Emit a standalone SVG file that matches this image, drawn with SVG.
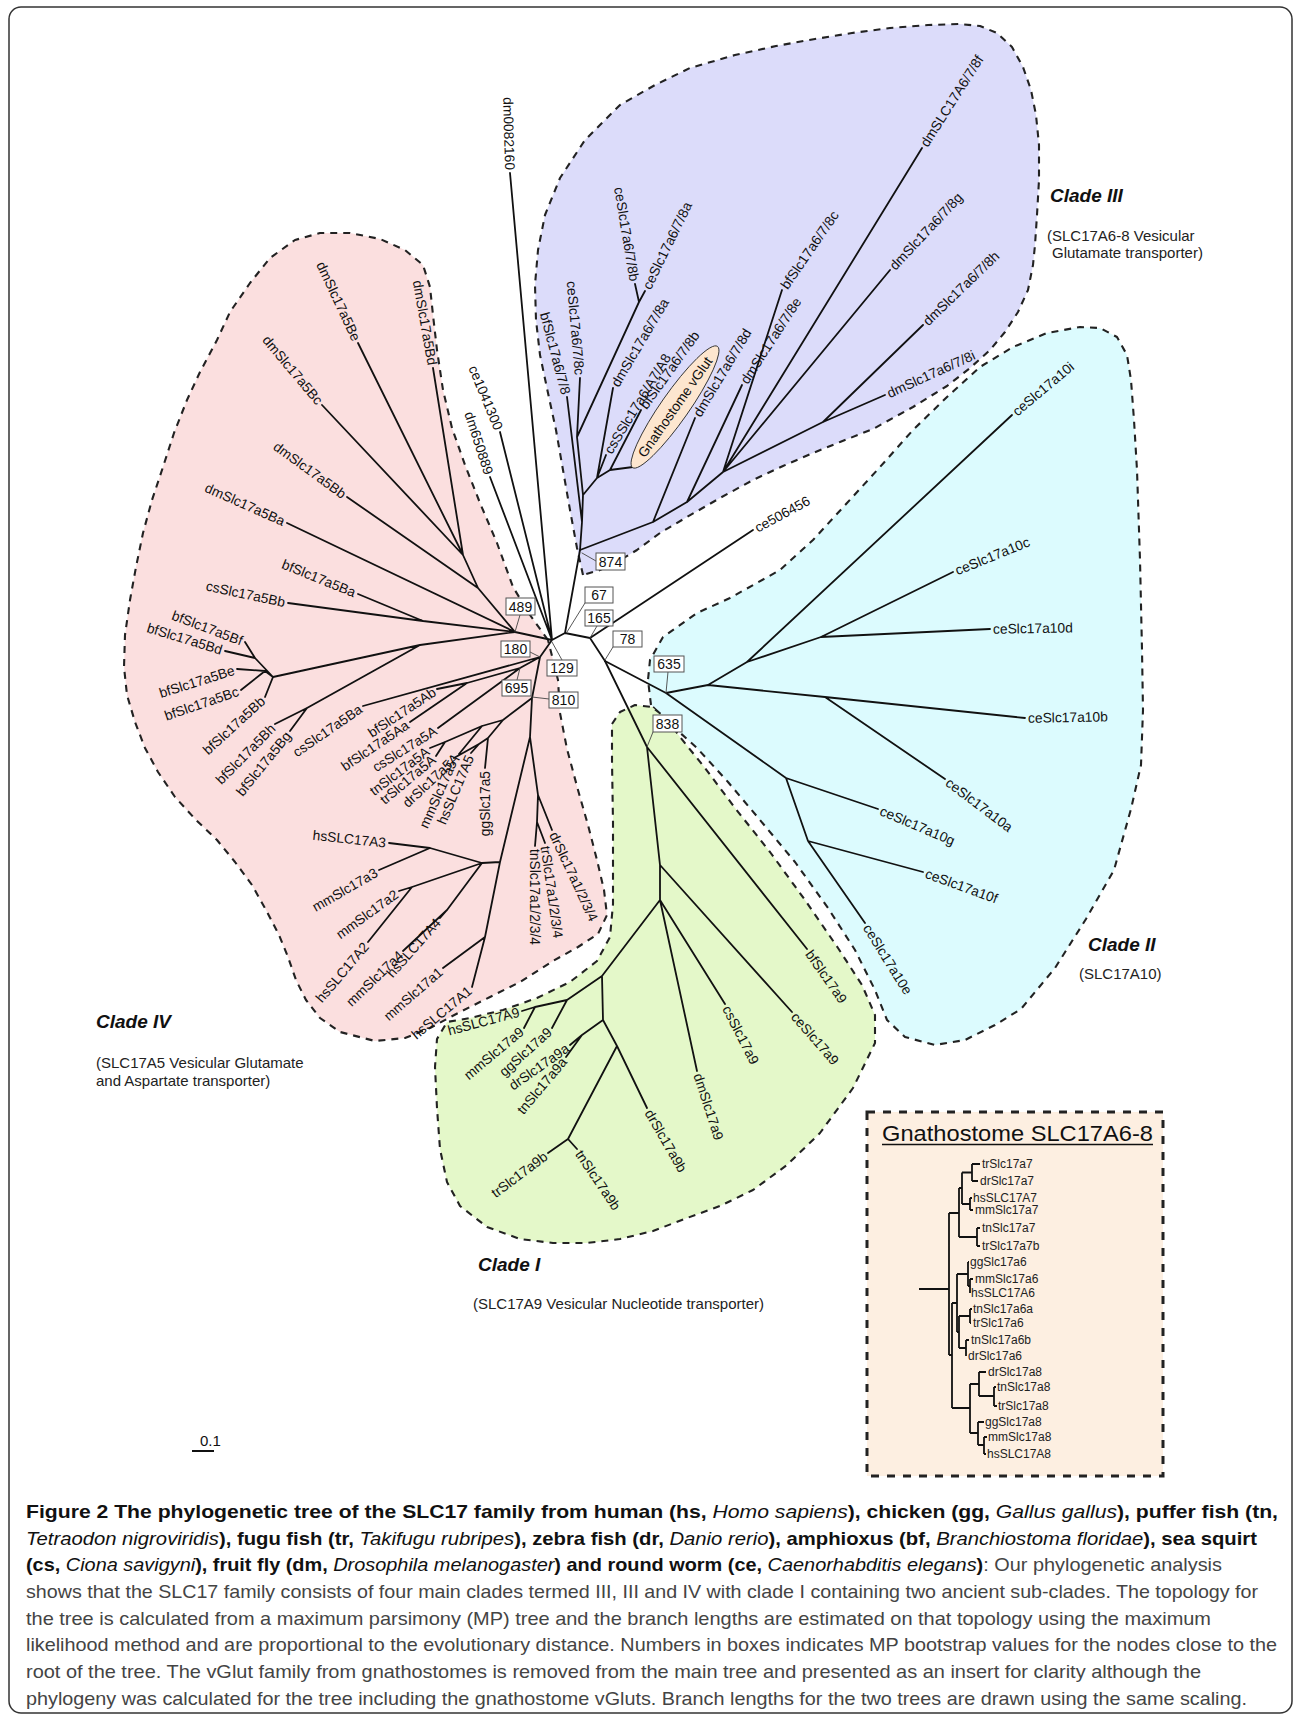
<svg xmlns="http://www.w3.org/2000/svg" width="1295" height="1715" viewBox="0 0 1295 1715">
<style>
.cl{stroke:#222;stroke-width:2.1;stroke-dasharray:7 6;stroke-linejoin:round}
.c3{fill:#dcdcfa}.c4{fill:#fbdfdf}.c2{fill:#dcfbfe}.c1{fill:#e4f8c9}
.br{stroke:#111;stroke-width:1.8;fill:none;stroke-linecap:round}
.lb{font-family:"Liberation Sans",Arial,sans-serif;font-size:13.8px;fill:#111}
.e{text-anchor:end}
.bx rect{fill:#fff;stroke:#555;stroke-width:1}
.bx text{font-family:"Liberation Sans",Arial,sans-serif;font-size:14px;fill:#111;text-anchor:middle}
.ptr{stroke:#444;stroke-width:0.9;fill:none}
.ct{font-family:"Liberation Sans",Arial,sans-serif;font-size:19px;font-weight:bold;font-style:italic;fill:#111}
.cs{font-family:"Liberation Sans",Arial,sans-serif;font-size:15px;fill:#222}
.il{font-family:"Liberation Sans",Arial,sans-serif;font-size:12px;fill:#222}
.cap{font-family:"Liberation Sans",Arial,sans-serif;font-size:18.5px;fill:#444}
.b{font-weight:bold;fill:#111}
.i{font-style:italic;fill:#111}
</style>
<rect x="9" y="7" width="1283" height="1706" rx="12" fill="#fff" stroke="#333" stroke-width="1.5"/>

<g id="clade-regions">
<path id="clade3-region" class="c3 cl" d="M583,575 L577,548 L570,510 L563,470 L556,430 L548,393 L540,355 L536,320 L535,285 L538,250 L545,215 L560,178 L585,140 L620,105 L655,85 L690,68 L735,55 L776,46 L815,39 L852,33 L890,28 L928,25 L960,24 L980,26 L997,33 L1012,47 L1023,67 L1031,90 L1036,115 L1039,145 L1039,180 L1037,215 L1035,245 L1033,265 L1028,290 L1018,312 L1005,332 L990,350 L970,368 L947,386 L913,407 L873,429 L840,442 L813,453 L783,466 L753,480 L720,498 L687,517 L660,533 L637,550 L617,562 L600,570 Z"/>
<path id="clade4-region" class="c4 cl" d="M548,640 L530,615 L513,587 L497,543 L480,503 L465,465 L452,428 L443,390 L437,350 L433,315 L430,287 L423,265 L405,250 L380,239 L350,233 L320,233 L295,240 L270,258 L250,283 L230,312 L217,340 L200,372 L187,400 L174,433 L163,467 L152,500 L143,533 L136,567 L130,600 L125,635 L124,667 L127,695 L135,722 L145,748 L158,772 L175,797 L196,820 L217,840 L235,862 L252,885 L266,910 L279,935 L288,957 L296,980 L306,1000 L320,1018 L340,1032 L375,1041 L405,1038 L430,1028 L460,1012 L490,997 L520,982 L553,961 L578,947 L598,934 L607,915 L604,890 L597,860 L588,825 L578,790 L567,749 L560,713 L558,680 Z"/>
<path id="clade2-region" class="c2 cl" d="M651,705 L648,680 L650,660 L663,637 L697,613 L730,598 L780,570 L813,540 L847,503 L880,467 L913,430 L947,397 L980,367 L1013,347 L1047,333 L1080,327 L1100,328 L1117,337 L1127,355 L1131,380 L1134,420 L1137,470 L1140,560 L1142,650 L1143,710 L1141,765 L1131,809 L1114,870 L1086,919 L1055,968 L1021,1009 L995,1025 L965,1040 L935,1045 L905,1037 L887,1020 L875,990 L855,950 L828,908 L795,862 L760,820 L728,782 L697,748 L668,722 Z"/>
<path id="clade1-region" class="c1 cl" d="M612,724 L620,712 L635,705 L652,707 L666,718 L680,737 L705,768 L735,808 L770,852 L805,900 L838,948 L862,985 L875,1015 L875,1043 L853,1088 L820,1133 L787,1165 L753,1190 L720,1206 L687,1218 L653,1231 L620,1239 L587,1243 L553,1243 L520,1239 L487,1227 L460,1206 L447,1182 L440,1149 L437,1108 L435,1067 L437,1039 L447,1022 L470,1018 L503,1010 L537,998 L570,982 L597,961 L610,937 L613,904 L613,822 L612,761 Z"/>
</g>

<g id="connectors" class="br">
<path d="M565,633L552,640 M565,633L580,550 M565,633L590,638 M590,638L605,661 M590,638L753,530 M552,640L510,173 M552,640L500,432 M552,640L490,477 M552,640L515,632 M552,640L540,657"/>
<path d="M580,550L582,522 M582,522L567,397 M582,522L583,495 M583,495L577,437 M577,437L580,378 M577,437L639,302 M639,302L635,284 M639,302L645,291 M583,495L597,478 M597,478L613,388 M597,478L606,455 M597,478L610,470 M610,470L633,467 M610,470L641,410 M580,550L653,522 M653,522L695,418 M653,522L687,502 M687,502L742,385 M687,502L723,472 M723,472L782,290 M723,472L922,148 M723,472L890,270 M723,472L823,422 M823,422L923,325 M823,422L885,395"/>
<path d="M605,661L666,693 M666,693L708,685 M666,693L786,778 M708,685L747,662 M708,685L825,697 M825,697L1025,718 M825,697L945,779 M747,662L1012,415 M747,662L821,637 M821,637L953,572 M821,637L990,629 M786,778L878,809 M786,778L808,841 M808,841L923,872 M808,841L865,923"/>
<path d="M605,661L647,747 M647,747L807,949 M647,747L660,865 M660,865L792,1012 M660,865L660,900 M660,900L725,1004 M660,900L697,1071 M660,900L602,976 M602,976L567,1000 M602,976L603,1020 M567,1000L535,1007 M567,1000L552,1028 M535,1007L522,1011 M535,1007L524,1028 M603,1020L582,1035 M582,1035L570,1045 M582,1035L566,1057 M603,1020L617,1046 M617,1046L647,1108 M617,1046L568,1139 M568,1139L548,1153 M568,1139L577,1149"/>
<path d="M515,632L478,588 M515,632L287,523 M478,588L463,555 M478,588L347,497 M463,555L433,368 M463,555L358,343 M463,555L322,405 M515,632L423,621 M423,621L358,594 M423,621L288,603 M515,632L420,645 M420,645L273,677 M420,645L307,708 M273,677L255,658 M273,677L265,671 M273,677L265,697 M255,658L245,642 M255,658L225,651 M265,671L237,669 M265,671L241,690 M307,708L275,724 M307,708L290,731 M540,657L363,706 M540,657L520,668 M520,668L467,683 M520,668L438,728 M467,683L437,689 M467,683L410,722 M540,657L532,698 M532,698L503,720 M503,720L482,726 M482,726L445,742 M445,742L430,748 M445,742L436,756 M482,726L459,754 M503,720L488,738 M488,738L485,768 M488,738L479,744 M479,744L454,758 M479,744L471,753 M532,698L530,737 M530,737L538,795 M538,795L552,830 M538,795L537,822 M537,822L535,846 M537,822L545,843 M530,737L500,862 M500,862L482,863 M482,863L430,848 M430,848L389,843 M430,848L379,870 M482,863L412,887 M412,887L399,891 M412,887L368,942 M482,863L447,910 M447,910L440,918 M447,910L403,951 M500,862L485,937 M485,937L443,968 M485,937L472,987"/>
<path class="ptr" d="M596,561L582,553 M585,603L567,632 M597,626L590,638 M613,647L605,660 M520,615L515,632 M530,652L540,657 M562,660L552,642 M517,680L520,668 M549,699L532,697 M668,672L666,693 M653,732L647,747"/>
</g>

<g id="n-gnathostome-vglut">
<ellipse cx="675" cy="407" rx="74" ry="14" transform="rotate(-55 675 407)" fill="#fde6cf" stroke="#333" stroke-width="0.9"/>
<text class="lb" font-size="14" text-anchor="middle" transform="translate(675,407) rotate(-55)" dy=".35em">Gnathostome vGlut</text>
</g>

<g id="bootstrap">
<g id="bs874" class="bx"><rect x="596" y="553" width="29" height="17"/><text x="610.5" y="566.5">874</text></g>
<g id="bs67" class="bx"><rect x="585" y="587" width="28" height="16"/><text x="599" y="600">67</text></g>
<g id="bs165" class="bx"><rect x="585" y="610" width="28" height="16"/><text x="599" y="623">165</text></g>
<g id="bs78" class="bx"><rect x="613" y="631" width="29" height="16"/><text x="627.5" y="644">78</text></g>
<g id="bs489" class="bx"><rect x="506" y="598" width="29" height="17"/><text x="520.5" y="611.5">489</text></g>
<g id="bs180" class="bx"><rect x="501" y="641" width="29" height="16"/><text x="515.5" y="654">180</text></g>
<g id="bs129" class="bx"><rect x="547" y="660" width="30" height="16"/><text x="562" y="673">129</text></g>
<g id="bs695" class="bx"><rect x="502" y="680" width="29" height="16"/><text x="516.5" y="693">695</text></g>
<g id="bs810" class="bx"><rect x="549" y="692" width="29" height="16"/><text x="563.5" y="705">810</text></g>
<g id="bs635" class="bx"><rect x="654" y="656" width="30" height="16"/><text x="669" y="669">635</text></g>
<g id="bs838" class="bx"><rect x="653" y="715" width="29" height="17"/><text x="667.5" y="728.5">838</text></g>
</g>

<g id="leaves">
<g id="l-dm0082160"><text class="lb e" transform="translate(510,173) rotate(88.5)" x="-3" dy=".35em">dm0082160</text></g>
<g id="l-ce1041300"><text class="lb e" transform="translate(500,432) rotate(67.5)" x="-3" dy=".35em">ce1041300</text></g>
<g id="l-dm650889"><text class="lb e" transform="translate(490,477) rotate(72)" x="-3" dy=".35em">dm650889</text></g>
<g id="l-bf678"><text class="lb e" transform="translate(567,397) rotate(75)" x="-3" dy=".35em">bfSlc17a6/7/8</text></g>
<g id="l-ce678c"><text class="lb e" transform="translate(580,378) rotate(85)" x="-3" dy=".35em">ceSlc17a6/7/8c</text></g>
<g id="l-ce678b"><text class="lb e" transform="translate(635,284) rotate(80.5)" x="-3" dy=".35em">ceSlc17a6/7/8b</text></g>
<g id="l-ce678a"><text class="lb" transform="translate(645,291) rotate(-64)" x="3" dy=".35em">ceSlc17a6/7/8a</text></g>
<g id="l-dm678a"><text class="lb" transform="translate(613,388) rotate(-59.4)" x="3" dy=".35em">dmSlc17a6/7/8a</text></g>
<g id="l-csS"><text class="lb" transform="translate(606,455) rotate(-58.5)" x="3" dy=".35em">csSSlc17a6/A7/A8</text></g>
<g id="l-bf678b"><text class="lb" transform="translate(641,410) rotate(-54.5)" x="3" dy=".35em">bfSlc17a6/7/8b</text></g>
<g id="l-dm678d"><text class="lb" transform="translate(695,418) rotate(-59)" x="3" dy=".35em">dmSlc17a6/7/8d</text></g>
<g id="l-dm678e"><text class="lb" transform="translate(742,385) rotate(-57)" x="3" dy=".35em">dmSlc17a6/7/8e</text></g>
<g id="l-bf678c"><text class="lb" transform="translate(782,290) rotate(-55.5)" x="3" dy=".35em">bfSlc17a6/7/8c</text></g>
<g id="l-dm678f"><text class="lb" transform="translate(922,148) rotate(-57.6)" x="3" dy=".35em">dmSLC17A6/7/8f</text></g>
<g id="l-dm678g"><text class="lb" transform="translate(890,270) rotate(-47)" x="3" dy=".35em">dmSlc17a6/7/8g</text></g>
<g id="l-dm678h"><text class="lb" transform="translate(923,325) rotate(-44)" x="3" dy=".35em">dmSlc17a6/7/8h</text></g>
<g id="l-dm678i"><text class="lb" transform="translate(885,395) rotate(-24.5)" x="3" dy=".35em">dmSlc17a6/7/8i</text></g>
<g id="l-ce506456"><text class="lb" transform="translate(753,530) rotate(-28.6)" x="3" dy=".35em">ce506456</text></g>

<g id="l-ce10i"><text class="lb" transform="translate(1012,415) rotate(-40)" x="3" dy=".35em">ceSlc17a10i</text></g>
<g id="l-ce10c"><text class="lb" transform="translate(953,572) rotate(-22)" x="3" dy=".35em">ceSlc17a10c</text></g>
<g id="l-ce10d"><text class="lb" transform="translate(990,629) rotate(-1)" x="3" dy=".35em">ceSlc17a10d</text></g>
<g id="l-ce10b"><text class="lb" transform="translate(1025,718) rotate(-1)" x="3" dy=".35em">ceSlc17a10b</text></g>
<g id="l-ce10a"><text class="lb" transform="translate(945,779) rotate(37)" x="3" dy=".35em">ceSlc17a10a</text></g>
<g id="l-ce10g"><text class="lb" transform="translate(878,809) rotate(23)" x="3" dy=".35em">ceSlc17a10g</text></g>
<g id="l-ce10f"><text class="lb" transform="translate(923,872) rotate(20)" x="3" dy=".35em">ceSlc17a10f</text></g>
<g id="l-ce10e"><text class="lb" transform="translate(865,923) rotate(58)" x="3" dy=".35em">ceSlc17a10e</text></g>

<g id="l-bf9"><text class="lb" transform="translate(807,949) rotate(55)" x="3" dy=".35em">bfSlc17a9</text></g>
<g id="l-ce9"><text class="lb" transform="translate(792,1012) rotate(49)" x="3" dy=".35em">ceSlc17a9</text></g>
<g id="l-cs9"><text class="lb" transform="translate(725,1004) rotate(63)" x="3" dy=".35em">csSlc17a9</text></g>
<g id="l-dm9"><text class="lb" transform="translate(697,1071) rotate(72)" x="3" dy=".35em">dmSlc17a9</text></g>
<g id="l-dr9b"><text class="lb" transform="translate(647,1108) rotate(60)" x="3" dy=".35em">drSlc17a9b</text></g>
<g id="l-tn9b"><text class="lb" transform="translate(577,1149) rotate(56)" x="3" dy=".35em">tnSlc17a9b</text></g>
<g id="l-tr9b"><text class="lb e" transform="translate(548,1153) rotate(-37)" x="-3" dy=".35em">trSlc17a9b</text></g>
<g id="l-tn9a"><text class="lb e" transform="translate(566,1057) rotate(-50)" x="-3" dy=".35em">tnSlc17a9a</text></g>
<g id="l-dr9a"><text class="lb e" transform="translate(570,1045) rotate(-35)" x="-3" dy=".35em">drSlc17a9a</text></g>
<g id="l-gg9"><text class="lb e" transform="translate(552,1028) rotate(-42)" x="-3" dy=".35em">ggSlc17a9</text></g>
<g id="l-mm9"><text class="lb e" transform="translate(524,1028) rotate(-40)" x="-3" dy=".35em">mmSlc17a9</text></g>
<g id="l-hs9"><text class="lb e" transform="translate(522,1011) rotate(-15)" x="-3" dy=".35em">hsSLC17A9</text></g>

<g id="l-dm5Be"><text class="lb e" transform="translate(358,343) rotate(65)" x="-3" dy=".35em">dmSlc17a5Be</text></g>
<g id="l-dm5Bd"><text class="lb e" transform="translate(433,368) rotate(80)" x="-3" dy=".35em">dmSlc17a5Bd</text></g>
<g id="l-dm5Bc"><text class="lb e" transform="translate(322,405) rotate(50)" x="-3" dy=".35em">dmSlc17a5Bc</text></g>
<g id="l-dm5Bb"><text class="lb e" transform="translate(347,497) rotate(36)" x="-3" dy=".35em">dmSlc17a5Bb</text></g>
<g id="l-dm5Ba"><text class="lb e" transform="translate(287,523) rotate(24)" x="-3" dy=".35em">dmSlc17a5Ba</text></g>
<g id="l-bf5Ba"><text class="lb e" transform="translate(358,594) rotate(22)" x="-3" dy=".35em">bfSlc17a5Ba</text></g>
<g id="l-cs5Bb"><text class="lb e" transform="translate(288,603) rotate(12)" x="-3" dy=".35em">csSlc17a5Bb</text></g>
<g id="l-bf5Bf"><text class="lb e" transform="translate(245,642) rotate(20.6)" x="-3" dy=".35em">bfSlc17a5Bf</text></g>
<g id="l-bf5Bd"><text class="lb e" transform="translate(225,651) rotate(17)" x="-3" dy=".35em">bfSlc17a5Bd</text></g>
<g id="l-bf5Be"><text class="lb e" transform="translate(237,669) rotate(-17.5)" x="-3" dy=".35em">bfSlc17a5Be</text></g>
<g id="l-bf5Bc"><text class="lb e" transform="translate(241,690) rotate(-19)" x="-3" dy=".35em">bfSlc17a5Bc</text></g>
<g id="l-bf5Bb"><text class="lb e" transform="translate(265,697) rotate(-42.5)" x="-3" dy=".35em">bfSlc17a5Bb</text></g>
<g id="l-bf5Bh"><text class="lb e" transform="translate(275,724) rotate(-45.5)" x="-3" dy=".35em">bfSlc17a5Bh</text></g>
<g id="l-bf5Bg"><text class="lb e" transform="translate(290,731) rotate(-51)" x="-3" dy=".35em">bfSlc17a5Bg</text></g>
<g id="l-cs5Ba"><text class="lb e" transform="translate(363,706) rotate(-34.6)" x="-3" dy=".35em">csSlc17a5Ba</text></g>
<g id="l-bf5Ab"><text class="lb e" transform="translate(437,689) rotate(-33.5)" x="-3" dy=".35em">bfSlc17a5Ab</text></g>
<g id="l-bf5Aa"><text class="lb e" transform="translate(410,722) rotate(-34)" x="-3" dy=".35em">bfSlc17a5Aa</text></g>
<g id="l-cs5A"><text class="lb e" transform="translate(438,728) rotate(-32)" x="-3" dy=".35em">csSlc17a5A</text></g>
<g id="l-tn5A"><text class="lb e" transform="translate(430,748) rotate(-37)" x="-3" dy=".35em">tnSlc17a5A</text></g>
<g id="l-tr5A"><text class="lb e" transform="translate(436,756) rotate(-40)" x="-3" dy=".35em">trSlc17a5A</text></g>
<g id="l-dr5A"><text class="lb e" transform="translate(459,754) rotate(-43)" x="-3" dy=".35em">drSlc17a5A</text></g>
<g id="l-mm5"><text class="lb e" transform="translate(454,758) rotate(-66)" x="-3" dy=".35em">mmSlc17a5</text></g>
<g id="l-hs5"><text class="lb e" transform="translate(471,753) rotate(-67)" x="-3" dy=".35em">hsSLC17A5</text></g>
<g id="l-gg5"><text class="lb e" transform="translate(485,768) rotate(-90)" x="-3" dy=".35em">ggSlc17a5</text></g>
<g id="l-tn1234"><text class="lb" transform="translate(535,846) rotate(90)" x="3" dy=".35em">tnSlc17a1/2/3/4</text></g>
<g id="l-tr1234"><text class="lb" transform="translate(545,843) rotate(82)" x="3" dy=".35em">trSlc17a1/2/3/4</text></g>
<g id="l-dr1234"><text class="lb" transform="translate(552,830) rotate(65)" x="3" dy=".35em">drSlc17a1/2/3/4</text></g>
<g id="l-hs3"><text class="lb e" transform="translate(389,843) rotate(6)" x="-3" dy=".35em">hsSLC17A3</text></g>
<g id="l-mm3"><text class="lb e" transform="translate(379,870) rotate(-30)" x="-3" dy=".35em">mmSlc17a3</text></g>
<g id="l-mm2"><text class="lb e" transform="translate(399,891) rotate(-36)" x="-3" dy=".35em">mmSlc17a2</text></g>
<g id="l-hs2"><text class="lb e" transform="translate(368,942) rotate(-49.6)" x="-3" dy=".35em">hsSLC17A2</text></g>
<g id="l-mm4"><text class="lb e" transform="translate(403,951) rotate(-44)" x="-3" dy=".35em">mmSlc17a4</text></g>
<g id="l-hs4"><text class="lb e" transform="translate(440,918) rotate(-48.5)" x="-3" dy=".35em">hsSLC17A4</text></g>
<g id="l-mm1"><text class="lb e" transform="translate(443,968) rotate(-41)" x="-3" dy=".35em">mmSlc17a1</text></g>
<g id="l-hs1"><text class="lb e" transform="translate(472,987) rotate(-40)" x="-3" dy=".35em">hsSLC17A1</text></g>
</g>

<g id="clade-labels">
<g id="t-clade3"><text class="ct" x="1050" y="202">Clade III</text><text class="cs" x="1047" y="241">(SLC17A6-8 Vesicular</text><text class="cs" x="1052" y="258">Glutamate transporter)</text></g>
<g id="t-clade2"><text class="ct" x="1088" y="951">Clade II</text><text class="cs" x="1079" y="979">(SLC17A10)</text></g>
<g id="t-clade1"><text class="ct" x="478" y="1271">Clade I</text><text class="cs" x="473" y="1309">(SLC17A9 Vesicular Nucleotide transporter)</text></g>
<g id="t-clade4"><text class="ct" x="96" y="1028">Clade IV</text><text class="cs" x="96" y="1068">(SLC17A5 Vesicular Glutamate</text><text class="cs" x="96" y="1086">and Aspartate transporter)</text></g>
</g>

<g id="scale-bar">
<line x1="192" y1="1451" x2="214" y2="1451" stroke="#111" stroke-width="2"/>
<text x="200" y="1446" font-family="Liberation Sans, Arial, sans-serif" font-size="15" fill="#111">0.1</text>
</g>

<g id="inset">
<rect x="867" y="1112" width="296" height="364" fill="#fdefe1" stroke="#222" stroke-width="3" stroke-dasharray="8 8"/>
<text x="882" y="1141" font-family="Liberation Sans, Arial, sans-serif" font-size="22" fill="#111" textLength="271" lengthAdjust="spacingAndGlyphs">Gnathostome SLC17A6-8</text>
<line x1="882" y1="1144.5" x2="1153" y2="1144.5" stroke="#111" stroke-width="1.3"/>
<path fill="none" stroke="#111" stroke-width="1.8" d="M919,1289H949 M949,1213V1355 M949,1213H959 M959,1188V1237 M959,1188H962 M959,1237H977 M962,1172.5V1204 M962,1172.5H972 M962,1204H970 M972,1164V1181 M972,1164H980 M972,1181H978 M970,1198V1210 M970,1198H972 M970,1210H973 M977,1228V1246 M977,1228H980 M977,1246H980 M949,1355H952 M952,1303V1408 M952,1303H957 M957,1274V1332 M957,1274H968 M968,1262V1286 M968,1262H969 M968,1286H970 M970,1279V1293 M970,1279H973 M957,1332H959 M959,1316V1348 M959,1316H970 M959,1348H966 M970,1309V1323 M970,1309H972 M970,1323H971 M966,1340V1356 M966,1340H969 M952,1408H970 M970,1384V1433 M970,1384H979 M979,1372V1396 M979,1372H986 M979,1396H994 M994,1387V1406 M994,1387H996 M994,1406H997 M970,1433H978 M978,1422V1445 M978,1422H984 M978,1445H984 M984,1437V1454 M984,1437H987 M984,1454H986"/>
<g class="il">
<text id="i-trSlc17a7" x="982" y="1168">trSlc17a7</text>
<text id="i-drSlc17a7" x="980" y="1185">drSlc17a7</text>
<text id="i-hsSLC17A7" x="973" y="1202">hsSLC17A7</text>
<text id="i-mmSlc17a7" x="975" y="1214">mmSlc17a7</text>
<text id="i-tnSlc17a7" x="982" y="1232">tnSlc17a7</text>
<text id="i-trSlc17a7b" x="982" y="1250">trSlc17a7b</text>
<text id="i-ggSlc17a6" x="970" y="1266">ggSlc17a6</text>
<text id="i-mmSlc17a6" x="975" y="1283">mmSlc17a6</text>
<text id="i-hsSLC17A6" x="971" y="1297">hsSLC17A6</text>
<text id="i-tnSlc17a6a" x="973" y="1313">tnSlc17a6a</text>
<text id="i-trSlc17a6" x="973" y="1327">trSlc17a6</text>
<text id="i-tnSlc17a6b" x="971" y="1344">tnSlc17a6b</text>
<text id="i-drSlc17a6" x="968" y="1360">drSlc17a6</text>
<text id="i-drSlc17a8" x="988" y="1376">drSlc17a8</text>
<text id="i-tnSlc17a8" x="997" y="1391">tnSlc17a8</text>
<text id="i-trSlc17a8" x="998" y="1410">trSlc17a8</text>
<text id="i-ggSlc17a8" x="985" y="1426">ggSlc17a8</text>
<text id="i-mmSlc17a8" x="988" y="1441">mmSlc17a8</text>
<text id="i-hsSLC17A8" x="987" y="1458">hsSLC17A8</text>
</g>
</g>

<g id="caption">
<text class="cap" x="26" y="1518" textLength="1252" lengthAdjust="spacingAndGlyphs"><tspan class="b">Figure 2 The phylogenetic tree of the SLC17 family from human (hs, </tspan><tspan class="i">Homo sapiens</tspan><tspan class="b">), chicken (gg, </tspan><tspan class="i">Gallus gallus</tspan><tspan class="b">), puffer fish (tn,</tspan></text>
<text class="cap" x="26" y="1545" textLength="1231" lengthAdjust="spacingAndGlyphs"><tspan class="i">Tetraodon nigroviridis</tspan><tspan class="b">), fugu fish (tr, </tspan><tspan class="i">Takifugu rubripes</tspan><tspan class="b">), zebra fish (dr, </tspan><tspan class="i">Danio rerio</tspan><tspan class="b">), amphioxus (bf, </tspan><tspan class="i">Branchiostoma floridae</tspan><tspan class="b">), sea squirt</tspan></text>
<text class="cap" x="26" y="1571" textLength="1196" lengthAdjust="spacingAndGlyphs"><tspan class="b">(cs, </tspan><tspan class="i">Ciona savigyni</tspan><tspan class="b">), fruit fly (dm, </tspan><tspan class="i">Drosophila melanogaster</tspan><tspan class="b">) and round worm (ce, </tspan><tspan class="i">Caenorhabditis elegans</tspan><tspan class="b">)</tspan>: Our phylogenetic analysis</text>
<text class="cap" x="26" y="1598" textLength="1232" lengthAdjust="spacingAndGlyphs">shows that the SLC17 family consists of four main clades termed III, III and IV with clade I containing two ancient sub-clades. The topology for</text>
<text class="cap" x="26" y="1625" textLength="1185" lengthAdjust="spacingAndGlyphs">the tree is calculated from a maximum parsimony (MP) tree and the branch lengths are estimated on that topology using the maximum</text>
<text class="cap" x="26" y="1651" textLength="1251" lengthAdjust="spacingAndGlyphs">likelihood method and are proportional to the evolutionary distance. Numbers in boxes indicates MP bootstrap values for the nodes close to the</text>
<text class="cap" x="26" y="1678" textLength="1175" lengthAdjust="spacingAndGlyphs">root of the tree. The vGlut family from gnathostomes is removed from the main tree and presented as an insert for clarity although the</text>
<text class="cap" x="26" y="1705" textLength="1221" lengthAdjust="spacingAndGlyphs">phylogeny was calculated for the tree including the gnathostome vGluts. Branch lengths for the two trees are drawn using the same scaling.</text>
</g>
</svg>
